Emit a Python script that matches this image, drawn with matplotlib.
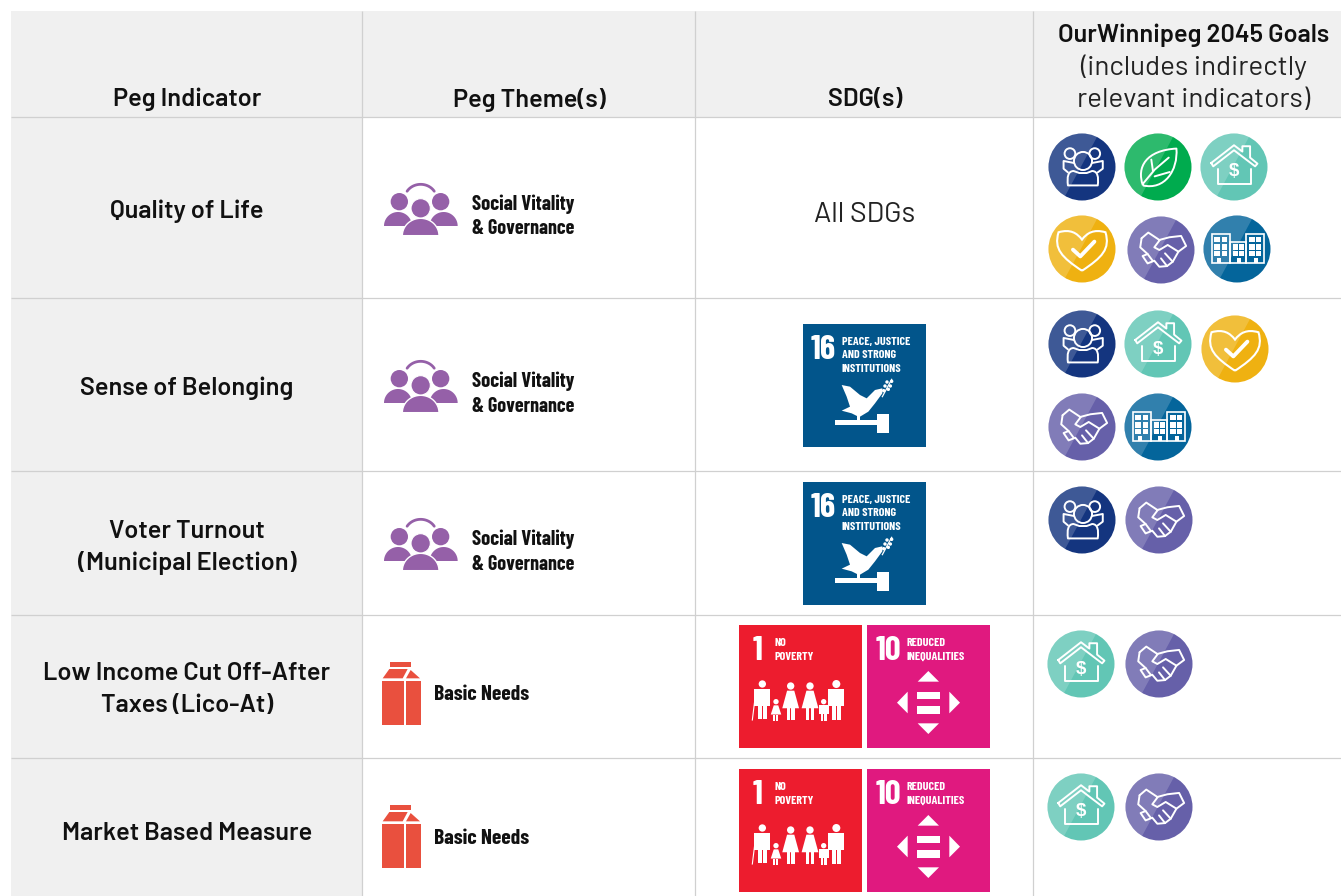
import numpy as np
import matplotlib
matplotlib.use("Agg")
import matplotlib.pyplot as plt
from matplotlib.patches import Rectangle, Circle, Polygon, PathPatch
from matplotlib.path import Path

# ---------- content ----------
headers = ["Peg Indicator", "Peg Theme(s)", "SDG(s)"]
goal_header = ["OurWinnipeg 2045 Goals", "(includes indirectly", "relevant indicators)"]
indicators = [["Quality of Life"], ["Sense of Belonging"],
              ["Voter Turnout", "(Municipal Election)"],
              ["Low Income Cut Off-After", "Taxes (Lico-At)"],
              ["Market Based Measure"]]
themes = ["social", "social", "social", "basic", "basic"]
sdgs = [[], [16], [16], [1, 10], [1, 10]]
goals = [["people", "leaf", "house", "heart", "hands", "city"],
         ["people", "house", "heart", "hands", "city"],
         ["people", "hands"],
         ["house", "hands"],
         ["house", "hands"]]

# ---------- layout (pixels) ----------
W, H = 1341, 896
col_x = [11, 362, 695, 1033, 1341]
row_y = [11, 117, 298, 471, 615, 758, 896]
col_c = [187, 529, 865, 1194]
ind_y = [[211.5], [388], [531, 563], [674, 706], [834]]
theme_dy = [0, 177, 335]
milk_dy = [0, 143]
sdg_tiles = [[], [(803, 324)], [(803, 482)], [(739, 625), (867, 625)], [(739, 769), (867, 769)]]
goal_xy = [[(1082, 167), (1158, 167), (1234, 167), (1082, 249), (1161, 250), (1237, 249)],
           [(1082, 344), (1158, 344), (1235, 349), (1082, 427), (1158, 427)],
           [(1082, 520), (1159, 520)],
           [(1081, 664), (1159, 664)],
           [(1081, 807), (1159, 807)]]
GREY, LINE = "#f0f0f0", "#d0d0d0"
INK = "#111111"
MAIN = ["Barlow", "Roboto", "DejaVu Sans"]
NARROW = ["Barlow Condensed", "Roboto Condensed", "Liberation Sans"]
goal_col = dict(people="#14357f", leaf="#00ab4e", house="#62c6b5",
                heart="#efb111", hands="#6660a9", city="#04659b")

fig = plt.figure(figsize=(W / 100, H / 100), dpi=100, facecolor="white")
ax = fig.add_axes([0, 0, 1, 1])
ax.set_xlim(0, W); ax.set_ylim(H, 0); ax.axis("off")

# ---------- grid ----------
ax.add_patch(Rectangle((col_x[0], row_y[0]), W - col_x[0], row_y[1] - row_y[0], fc=GREY, ec="none"))
ax.add_patch(Rectangle((col_x[0], row_y[1]), col_x[1] - col_x[0], H - row_y[1], fc=GREY, ec="none"))
for y in row_y[1:-1]:
    ax.plot([col_x[0], W], [y, y], color=LINE, lw=0.9, solid_capstyle="butt")
for x in col_x[1:-1]:
    ax.plot([x, x], [row_y[0], H], color=LINE, lw=0.9, solid_capstyle="butt")

# ---------- text ----------
BIG = 18.2
for c, t in zip(col_c, headers):
    ax.text(c, 99.5, t, ha="center", va="center", fontsize=BIG, family=MAIN, weight=600, color=INK)
ax.text(1194, 35.5, goal_header[0], ha="center", va="center", fontsize=BIG, family=MAIN, weight=600, color=INK)
ax.text(1194, 67, goal_header[1], ha="center", va="center", fontsize=20, family=MAIN, color="#222222")
ax.text(1194, 99.5, goal_header[2], ha="center", va="center", fontsize=20, family=MAIN, color="#222222")
for ys, lines in zip(ind_y, indicators):
    for y, t in zip(ys, lines):
        ax.text(187, y, t, ha="center", va="center", fontsize=BIG, family=MAIN, weight=600, color=INK)
ax.text(865, 214.5, "All SDGs", ha="center", va="center", fontsize=20.5, family=MAIN, color="#222222")


# ---------- theme icons ----------
PURPLE, RED = "#9560a8", "#e9503e"

def dome(cx, base, rx, ry, ox, oy, **kw):
    t = np.linspace(np.pi, 0, 40)
    pts = np.c_[cx + rx * np.cos(t), base - ry * np.sin(t)]
    ax.add_patch(Polygon(np.c_[ox + pts[:, 0] / 3, oy + pts[:, 1] / 3], closed=True, **kw))

def social_icon(dy):
    ox, oy = 370, 175 + dy
    dome(84, 153, 42, 42, ox, oy, fc=PURPLE, ec="none")
    dome(221, 153, 42, 42, ox, oy, fc=PURPLE, ec="none")
    dome(152, 182, 55, 52, ox, oy, fc=PURPLE, ec="white", lw=1.0)
    for cx, cy, r, e in [(88, 80, 26, 0), (212, 80, 26, 0), (152, 100, 29, 1)]:
        ax.add_patch(Circle((ox + cx / 3, oy + cy / 3), r / 3, fc=PURPLE, ec="white" if e else "none", lw=0.8))
    t = np.linspace(np.radians(212), np.radians(328), 30)
    ax.plot(ox + (152 + 48 * np.cos(t)) / 3, oy + (72 + 44 * np.sin(t)) / 3, color=PURPLE, lw=2, solid_capstyle="round")
    ax.text(472, 204.5 + dy, "Social Vitality", ha="left", va="center", fontsize=14.8, family=NARROW, weight="bold", color=INK)
    ax.text(472, 229 + dy, "& Governance", ha="left", va="center", fontsize=14.4, family=NARROW, weight="bold", color=INK)

def basic_icon(dy):
    ox, oy = 370, 650 + dy
    polys = [[(60, 37), (123, 37), (123, 50), (60, 50)],
             [(38, 85), (58, 57), (113, 57), (98, 85)],
             [(122, 60), (150, 85), (108, 85)],
             [(36, 93), (101, 93), (101, 224), (36, 224)],
             [(107, 93), (153, 93), (153, 224), (107, 224)]]
    for p in polys:
        p = np.array(p, float)
        ax.add_patch(Polygon(np.c_[ox + p[:, 0] / 3, oy + p[:, 1] / 3], closed=True, fc=RED, ec="none"))
    ax.text(434, 695 + dy, "Basic Needs", ha="left", va="center", fontsize=15.5, family=NARROW, weight="bold", color=INK)

si = bi = 0
for th in themes:
    if th == "social":
        social_icon(theme_dy[si]); si += 1
    else:
        basic_icon(milk_dy[bi]); bi += 1


# ---------- SDG tiles (coords in 1/369 of tile, scaled to 123 px) ----------
def tile_base(x0, y0, col):
    ax.add_patch(Rectangle((x0, y0), 123, 123, fc=col, ec="none"))
    return lambda pts: np.c_[x0 + np.array(pts, float)[:, 0] / 3, y0 + np.array(pts, float)[:, 1] / 3]

def white_poly(T, pts):
    ax.add_patch(Polygon(T(pts), closed=True, fc="white", ec="none"))

def tile_text(x0, y0, num, nx, lines, lx, ly):
    ax.text(x0 + nx / 3, y0 + 26, num, ha="center", va="center", fontsize=25, family=NARROW, weight="bold", color="white")
    for t, y in zip(lines, ly):
        ax.text(x0 + lx / 3, y0 + y / 3 + 1, t, ha="left", va="center", fontsize=8.7, family=NARROW, weight="bold", color="white")

def tile16(x0, y0):
    T = tile_base(x0, y0, "#02558b")
    tile_text(x0, y0, "16", 61, ["PEACE, JUSTICE", "AND STRONG", "INSTITUTIONS"], 116, [50, 91, 133])
    white_poly(T, [(116, 183), (141, 188), (171, 213), (191, 223), (216, 198), (238, 193), (238, 208), (216, 238),
                   (196, 263), (171, 278), (166, 278), (146, 268), (116, 260), (141, 248), (131, 218)])
    white_poly(T, [(161, 272), (171, 272), (171, 292), (161, 292)])
    white_poly(T, [(96, 288), (221, 288), (221, 304), (96, 304)])
    white_poly(T, [(221, 270), (259, 270), (259, 328), (221, 328)])
    ax.plot(*T([(238, 218), (266, 166)]).T, color="white", lw=0.9)
    for cx, cy in [(246, 186), (262, 186), (252, 174), (266, 172), (242, 200), (256, 196)]:
        ax.add_patch(Circle(tuple(T([(cx, cy)])[0]), 1.7, fc="white", ec="none"))

def figure(T, cx, top, hr, w, h, dress):
    ax.add_patch(Circle(tuple(T([(cx, top)])[0]), hr / 3, fc="white", ec="none"))
    y1 = top + hr + 3
    if dress:
        white_poly(T, [(cx - w * .45, y1), (cx + w * .45, y1), (cx + w * 1.05, y1 + h * .6), (cx - w * 1.05, y1 + h * .6)])
        white_poly(T, [(cx - w * .5, y1 + h * .6), (cx - w * .1, y1 + h * .6), (cx - w * .1, y1 + h), (cx - w * .5, y1 + h)])
        white_poly(T, [(cx + w * .1, y1 + h * .6), (cx + w * .5, y1 + h * .6), (cx + w * .5, y1 + h), (cx + w * .1, y1 + h)])
    else:
        white_poly(T, [(cx - w, y1), (cx + w, y1), (cx + w, y1 + h * .55), (cx + w * .6, y1 + h * .55), (cx + w * .6, y1 + h),
                       (cx + w * .07, y1 + h), (cx + w * .07, y1 + h * .55), (cx - w * .07, y1 + h * .55),
                       (cx - w * .07, y1 + h), (cx - w * .6, y1 + h), (cx - w * .6, y1 + h * .55), (cx - w, y1 + h * .55)])

def tile1(x0, y0):
    T = tile_base(x0, y0, "#ed1c2e")
    tile_text(x0, y0, "1", 56, ["NO", "POVERTY"], 106, [52, 93])
    figure(T, 70, 177, 11, 24, 92, False)
    figure(T, 292, 177, 12, 24, 92, False)
    figure(T, 155, 183, 11, 24, 88, True)
    figure(T, 213, 183, 11, 24, 88, True)
    figure(T, 111, 230, 8, 15, 46, True)
    figure(T, 254, 230, 8, 15, 46, False)
    ax.plot(*T([(48, 220), (40, 285)]).T, color="white", lw=0.8)

def tile10(x0, y0):
    T = tile_base(x0, y0, "#e0197f")
    tile_text(x0, y0, "10", 63, ["REDUCED", "INEQUALITIES"], 119, [50, 92])
    white_poly(T, [(184, 138), (152, 170), (216, 170)])
    white_poly(T, [(152, 295), (216, 295), (184, 327)])
    white_poly(T, [(122, 200), (122, 265), (90, 233)])
    white_poly(T, [(247, 200), (247, 265), (279, 233)])
    white_poly(T, [(151, 201), (219, 201), (219, 222), (151, 222)])
    white_poly(T, [(151, 244), (219, 244), (219, 266), (151, 266)])

painters = {16: tile16, 1: tile1, 10: tile10}
for ids, spots in zip(sdgs, sdg_tiles):
    for i, (x0, y0) in zip(ids, spots):
        painters[i](x0, y0)


# ---------- goal icons (coords relative to centre, circle radius = 100) ----------
R = 33.5

def smooth(P, verts, codes, **kw):
    v = np.array(verts, float)
    ax.add_patch(PathPatch(Path(P(v), codes), **kw))

def goal_icon(name, cx, cy):
    col = goal_col[name]
    disc = Circle((cx, cy), R, fc=col, ec="none")
    ax.add_patch(disc)
    P = lambda v: np.c_[cx + np.asarray(v, float)[:, 0] * R / 100, cy + np.asarray(v, float)[:, 1] * R / 100]
    hl = Polygon(P([(-110, -110), (60, -110), (45, -90), (-55, 95), (-70, 110), (-110, 110)]), closed=True, fc="white", alpha=0.18, ec="none")
    ax.add_patch(hl); hl.set_clip_path(disc)
    lw = 1.4
    st = dict(fc="none", ec="white", lw=lw, joinstyle="round")
    L = lambda pts, w=lw: ax.plot(*P(pts).T, color="white", lw=w, solid_capstyle="round", solid_joinstyle="round")
    C4 = Path.CURVE4
    if name == "people":
        for x, y, r in [(-36, -40, 16), (38, -40, 16), (3, -18, 27)]:
            ax.add_patch(Circle(tuple(P([(x, y)])[0]), r * R / 100, **st))
        L([(-24, -12), (-55, -18), (-55, 5), (-42, 16)])
        L([(30, -12), (62, -18), (62, 5), (47, 16)])
        smooth(P, [(-42, 55), (-45, 30), (-42, 12), (-25, 12), (-8, 18), (14, 18), (30, 12), (47, 12), (50, 30), (47, 55), (-42, 55)],
               [Path.MOVETO, C4, C4, C4, Path.LINETO, Path.LINETO, Path.LINETO, C4, C4, C4, Path.CLOSEPOLY], **st)
    elif name == "leaf":
        smooth(P, [(-45, 55), (-65, 0), (-35, -50), (55, -55), (60, 10), (20, 70), (-45, 55)],
               [Path.MOVETO, C4, C4, C4, C4, C4, C4], **st)
        L([(-45, 50), (-10, 8), (32, -28)])
        L([(-15, 12), (-20, -22)])
        L([(-10, 28), (35, 15)])
    elif name == "house":
        L([(-68, -12), (0, -65), (25, -46), (25, -62), (48, -62), (48, -28), (70, -10), (63, -2), (0, -50), (-62, -2), (-68, -12)])
        L([(-48, 5), (-48, 52), (50, 52), (50, 5)])
        ax.text(cx, cy + 5, "$", ha="center", va="center", fontsize=13.5, family="Liberation Sans", weight="bold", color="white")
    elif name == "heart":
        smooth(P, [(0, 65), (-60, 25), (-85, 0), (-70, -50), (-35, -60), (-15, -48), (0, -28),
                   (15, -48), (35, -60), (70, -50), (85, 0), (60, 25), (0, 65)],
               [Path.MOVETO, C4, C4, C4, C4, C4, C4, C4, C4, C4, C4, C4, C4], fc="none", ec="white", lw=1.5)
        L([(-27, 2), (-5, 22), (37, -22)], 2.8)
    elif name == "hands":
        L([(-58, -35), (-38, -52), (-5, -30), (25, -38), (60, -42), (75, -12), (52, 5), (20, -15), (-5, 0), (-20, -8), (-5, -28)])
        L([(-58, -35), (-62, -8), (-40, 12), (-55, 18), (-40, 40), (-20, 32), (-5, 50), (18, 48), (35, 35), (52, 5)])
        L([(18, 48), (0, 25)]); L([(35, 35), (12, 10)])
        L([(-40, 12), (-25, 32)])
    elif name == "city":
        for x0, y0, x1 in [(-75, -44, -21), (-21, -22, 27), (27, -44, 80)]:
            ax.add_patch(Polygon(P([(x0, y0), (x1, y0), (x1, 43), (x0, 43)]), closed=True, fc="none", ec="white", lw=1.2))
        for xs, ys in [((-68, -46), (-36, -14, 6)), ((-12, 5), (-14, 6)), ((37, 57), (-36, -14, 6))]:
            for x in xs:
                for y in ys:
                    ax.add_patch(Polygon(P([(x, y), (x + 16, y), (x + 16, y + 16), (x, y + 16)]), closed=True, fc="white", ec="none"))
        for x in (-60, 1, 52):
            ax.add_patch(Polygon(P([(x, 26), (x + 11, 26), (x + 11, 43), (x, 43)]), closed=True, fc="white", ec="none"))

for names, spots in zip(goals, goal_xy):
    for n, (x, y) in zip(names, spots):
        goal_icon(n, x, y)

fig.savefig("out.png", dpi=100, facecolor="white")
